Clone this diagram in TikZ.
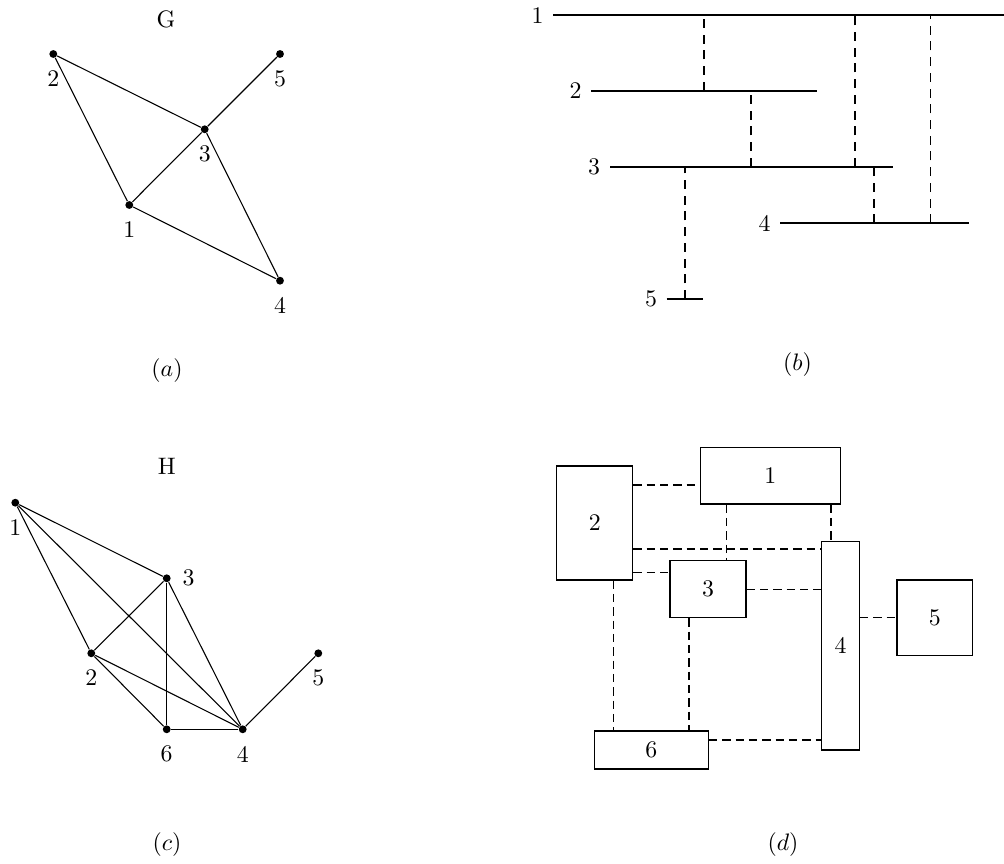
\documentclass[tikz,border=0pt]{standalone}
\usetikzlibrary{fit}
\begin{document}
\begin{tikzpicture}[x=0.42pt,y=-0.42pt,
  vtx/.style={circle,fill,inner sep=0pt,minimum size=3.3pt},
  edge/.style={line width=0.45pt},
  bar/.style={line width=0.85pt},
  dshb/.style={line width=0.45pt,dash pattern=on 3.8pt off 2.8pt},
  dshd/.style={line width=0.45pt,dash pattern=on 3.5pt off 2.1pt},
  bx/.style={draw,line width=0.55pt,inner sep=0pt},
  lb/.style={label distance=1.6pt},
  txt/.style={inner sep=0pt}]
\useasboundingbox (0,0) rectangle (1004,864);

% ---------- (a) graph G ----------
\node[txt] (G) at (166,19) {G};
\node[vtx,label={[lb]below:2}] (a2) at (53.3,54) {};
\node[vtx,label={[lb]below:5}] (a5) at (280,54) {};
\node[vtx,label={[lb]below:3}] (a3) at (204.7,129.3) {};
\node[vtx,label={[lb]below:1}] (a1) at (129.3,205) {};
\node[vtx,label={[lb]below:4}] (a4) at (280,280.7) {};
\draw[edge] (a2) -- (a3);
\draw[edge] (a2) -- (a1);
\draw[edge] (a1) -- (a3);
\draw[edge] (a3) -- (a5);
\draw[edge] (a3) -- (a4);
\draw[edge] (a1) -- (a4);
\node[txt] (capa) at (167,371) {$(a)$};

% ---------- (b) interval representation ----------
\coordinate (h1a) at (553.3,15.3);  \coordinate (h1b) at (1004,15.3);
\coordinate (h2a) at (591,90.7);    \coordinate (h2b) at (817.3,90.7);
\coordinate (h3a) at (610,166.7);   \coordinate (h3b) at (892.7,166.7);
\coordinate (h4a) at (780,223.3);   \coordinate (h4b) at (968.7,223.3);
\coordinate (h5a) at (666.7,299);   \coordinate (h5b) at (703.3,299);
\draw[bar] (h1a) -- (h1b);
\draw[bar] (h2a) -- (h2b);
\draw[bar] (h3a) -- (h3b);
\draw[bar] (h4a) -- (h4b);
\draw[bar] (h5a) -- (h5b);
\node[txt] (l1) at (537.5,15.3) {1};
\node[txt] (l2) at (575.5,91) {2};
\node[txt] (l3) at (594,167) {3};
\node[txt] (l4) at (764.5,223.5) {4};
\node[txt] (l5) at (651,299) {5};
\draw[dshb] (h2a -| 704,0) -- (h1a -| 704,0);
\draw[dshb] (h3a -| 855,0) -- (h1a -| 855,0);
\draw[dshb] (h4a -| 930.7,0) -- (h1a -| 930.7,0);
\draw[dshb] (h3a -| 751,0) -- (h2a -| 751,0);
\draw[dshb] (h4a -| 874,0) -- (h3a -| 874,0);
\draw[dshb] (h5a -| 685,0) -- (h3a -| 685,0);
\node[txt] (capb) at (797.5,365) {$(b)$};

% ---------- (c) graph H ----------
\node[txt] (H) at (166.7,466.7) {H};
\node[vtx,label={[lb]below:1}] (c1) at (15.3,502.7) {};
\node[vtx,label={[label distance=1.3pt]right:3}] (c3) at (166.7,578.3) {};
\node[vtx,label={[lb]below:2}] (c2) at (91.3,653.3) {};
\node[vtx,label={[lb]below:5}] (c5) at (318.3,653.3) {};
\node[vtx,label={[lb]below:6}] (c6) at (166.7,729.3) {};
\node[vtx,label={[lb]below:4}] (c4) at (242.7,729.3) {};
\draw[edge] (c1) -- (c3);
\draw[edge] (c1) -- (c2);
\draw[edge] (c1) -- (c4);
\draw[edge] (c2) -- (c3);
\draw[edge] (c2) -- (c4);
\draw[edge] (c2) -- (c6);
\draw[edge] (c3) -- (c6);
\draw[edge] (c3) -- (c4);
\draw[edge] (c6) -- (c4);
\draw[edge] (c4) -- (c5);
\node[txt] (capc) at (167,845) {$(c)$};

% ---------- (d) rectangle representation ----------
\coordinate (r1a) at (700.3,447.3); \coordinate (r1b) at (840.3,504);
\coordinate (r2a) at (556.7,466);   \coordinate (r2b) at (632.7,580);
\coordinate (r3a) at (670,560.7);   \coordinate (r3b) at (746,617.7);
\coordinate (r4a) at (821.7,541.7); \coordinate (r4b) at (859.3,750);
\coordinate (r5a) at (897,580);     \coordinate (r5b) at (972.7,655.3);
\coordinate (r6a) at (594.3,731);   \coordinate (r6b) at (708.3,769);
\node[bx,fit=(r1a)(r1b),label=center:1] (d1) {};
\node[bx,fit=(r2a)(r2b),label=center:2] (d2) {};
\node[bx,fit=(r3a)(r3b),label=center:3] (d3) {};
\node[bx,fit=(r4a)(r4b),label=center:4] (d4) {};
\node[bx,fit=(r5a)(r5b),label=center:5] (d5) {};
\node[bx,fit=(r6a)(r6b),label=center:6] (d6) {};
\draw[dshd] (d2.east |- 0,485) -- (d1.west |- 0,485);
\draw[dshd] (d2.east |- 0,549) -- (d4.west |- 0,549);
\draw[dshd] (d2.east |- 0,572.3) -- (d3.west |- 0,572.3);
\draw[dshd] (d1.south -| 726.7,0) -- (d3.north -| 726.7,0);
\draw[dshd] (d1.south -| 831,0) -- (d4.north -| 831,0);
\draw[dshd] (d3.east |- 0,589.3) -- (d4.west |- 0,589.3);
\draw[dshd] (d4.east |- 0,617.7) -- (d5.west |- 0,617.7);
\draw[dshd] (d2.south -| 613.3,0) -- (d6.north -| 613.3,0);
\draw[dshd] (d3.south -| 689,0) -- (d6.north -| 689,0);
\draw[dshd] (d6.east |- 0,740) -- (d4.west |- 0,740);
\node[txt] (capd) at (783,845) {$(d)$};
\end{tikzpicture}
\end{document}
